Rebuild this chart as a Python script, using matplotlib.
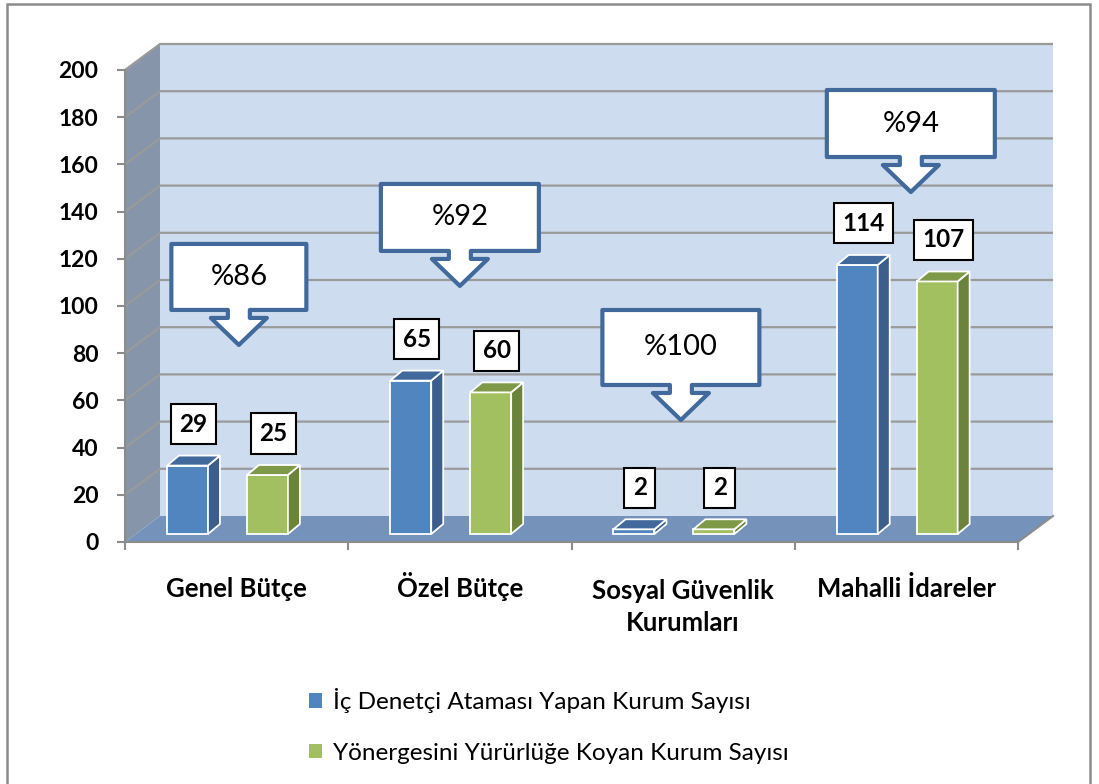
import matplotlib.pyplot as plt
import matplotlib.transforms as mtransforms
from matplotlib.patches import Patch, Polygon, Rectangle

plt.rcParams["font.family"] = ["Lato", "DejaVu Sans"]

# veri
categories = ["Genel Bütçe", "Özel Bütçe", "Sosyal Güvenlik\nKurumları", "Mahalli İdareler"]
atama = [29, 65, 2, 114]
yonerge = [25, 60, 2, 107]
oranlar = ["%86", "%92", "%100", "%94"]
series_names = [
    "İç Denetçi Ataması Yapan Kurum Sayısı",
    "Yönergesini Yürürlüğe Koyan Kurum Sayısı",
]
y_ticks = list(range(0, 201, 20))

# yerleşim (piksel)
W, H = 1099, 784
ax_left, ax_right, ax_top, ax_bottom = 125, 1018, 70, 542
callout_x = [0.51, 1.50, 2.49, 3.52]
callout_tip = [83.5, 108.5, 51.7, 148.3]
callout_w = [135, 158, 157, 168]
callout_h = [66, 67, 75, 67]

blue = ("#5185C0", "#3B5E8C", "#41699B")
green = ("#A2C05F", "#6C8439", "#7E9A49")
grid_c = "#9A9A9A"
line_c = "#8C8C8C"
callout_c = "#41699B"

fig = plt.figure(figsize=(W / 100, H / 100), dpi=100)
ax = fig.add_axes([ax_left / W, 1 - ax_bottom / H,
                   (ax_right - ax_left) / W, (ax_bottom - ax_top) / H])
ax.set_xlim(0, 4)
ax.set_ylim(0, 200)
ax.patch.set_visible(False)

ux = 4 / (ax_right - ax_left)
uy = 200 / (ax_bottom - ax_top)
wdx, wdy = 35 * ux, 26 * uy      # duvar derinliği
fdy = 8 * uy                      # çubuk tabanı
bdx, bdy = 12 * ux, 10 * uy      # çubuk derinliği
bw = 41 * ux

# arka duvar, yan duvar, zemin
ax.add_patch(Rectangle((wdx, wdy), 4, 200, fc="#CDDDEF", ec="none", zorder=0, clip_on=False))
ax.add_patch(Polygon([(0, 0), (wdx, wdy), (wdx, 200 + wdy), (0, 200)],
                     fc="#8695AA", ec="none", zorder=0, clip_on=False))
ax.add_patch(Polygon([(0, 0), (4, 0), (4 + wdx, wdy), (wdx, wdy)],
                     fc="#7592BA", ec="none", zorder=1, clip_on=False))
for y in y_ticks[1:]:
    ax.plot([0, wdx, 4 + wdx], [y, y + wdy, y + wdy], color=grid_c, lw=1.6,
            zorder=0.5, clip_on=False, solid_capstyle="butt")
ax.plot([4, 4 + wdx], [0, wdy], color=line_c, lw=1.5, zorder=1.2, clip_on=False)

# çubuklar
offsets = [0.188, 0.546]
for vals, cols, off in [(atama, blue, offsets[0]), (yonerge, green, offsets[1])]:
    xs = [i + off for i in range(len(vals))]
    ax.bar(xs, vals, width=bw, bottom=fdy, align="edge", color=cols[0],
           edgecolor="white", linewidth=1.3, zorder=3, clip_on=False)
    for x, v in zip(xs, vals):
        top = fdy + v
        ax.add_patch(Polygon([(x + bw, fdy), (x + bw + bdx, fdy + bdy),
                              (x + bw + bdx, top + bdy), (x + bw, top)],
                             fc=cols[1], ec="white", lw=1.3, zorder=3, clip_on=False))
        ax.add_patch(Polygon([(x, top), (x + bw, top), (x + bw + bdx, top + bdy),
                              (x + bdx, top + bdy)],
                             fc=cols[2], ec="white", lw=1.3, zorder=3, clip_on=False))
        ax.annotate(str(v), xy=(x + bw / 2 + bdx / 2, top + bdy), xytext=(0, 20),
                    textcoords="offset pixels", ha="center", va="bottom",
                    fontsize=17.5, fontweight="bold", zorder=4,
                    bbox=dict(boxstyle="square,pad=0.35", fc="white", ec="black", lw=1.5))

# oran kutuları
for cx, ty, w, h, txt in zip(callout_x, callout_tip, callout_w, callout_h, oranlar):
    pts_px = [(0, 0), (28, 27), (11, 27), (11, 35), (w / 2, 35), (w / 2, 35 + h),
              (-w / 2, 35 + h), (-w / 2, 35), (-11, 35), (-11, 27), (-28, 27)]
    pts = [(cx + px * ux, ty + py * uy) for px, py in pts_px]
    ax.add_patch(Polygon(pts, closed=True, fc="white", ec=callout_c, lw=3,
                         joinstyle="round", zorder=6, clip_on=False))
    ax.text(cx, ty + (35 + h / 2) * uy, txt, ha="center", va="center",
            fontsize=21, zorder=7)

# eksenler
for s in ["top", "right"]:
    ax.spines[s].set_visible(False)
for s in ["left", "bottom"]:
    ax.spines[s].set_color(line_c)
    ax.spines[s].set_linewidth(1.5)
    ax.spines[s].set_zorder(2)

ax.set_yticks(y_ticks)
ax.tick_params(axis="y", length=6, width=1.5, color=line_c, pad=13, labelsize=16.5)
plt.setp(ax.get_yticklabels(), fontweight="bold")

ax.set_xticks(range(5))
ax.set_xticklabels([])
ax.tick_params(axis="x", which="major", length=6, width=1.5, color=line_c)

# kategori adları: ilk satırın taban çizgisi eksenin 55 px altında
for i, cat in enumerate(categories):
    n_extra = cat.count("\n")
    tr = mtransforms.offset_copy(ax.get_xaxis_transform(), fig=fig,
                                 y=-(55 + 34 * n_extra), units="dots")
    ax.text(i + 0.5, 0, cat, transform=tr, ha="center", va="baseline",
            fontsize=18.5, fontweight="bold", linespacing=1.4, clip_on=False)

handles = [Patch(facecolor=blue[0]), Patch(facecolor=green[0])]
ax.legend(handles, series_names, loc="upper left", bbox_to_anchor=(309 / W, 1 - 688 / H),
          bbox_transform=fig.transFigure, frameon=False, fontsize=17.5,
          handlelength=0.55, handleheight=0.55, handletextpad=0.45,
          labelspacing=1.22, borderpad=0, borderaxespad=0)

fig.patches.append(Rectangle((7 / W, -0.02), (1090 - 7) / W, 1.02 - 4 / H,
                             transform=fig.transFigure, fill=False, ec=line_c, lw=1.8))

fig.savefig("out.png", dpi=100)
